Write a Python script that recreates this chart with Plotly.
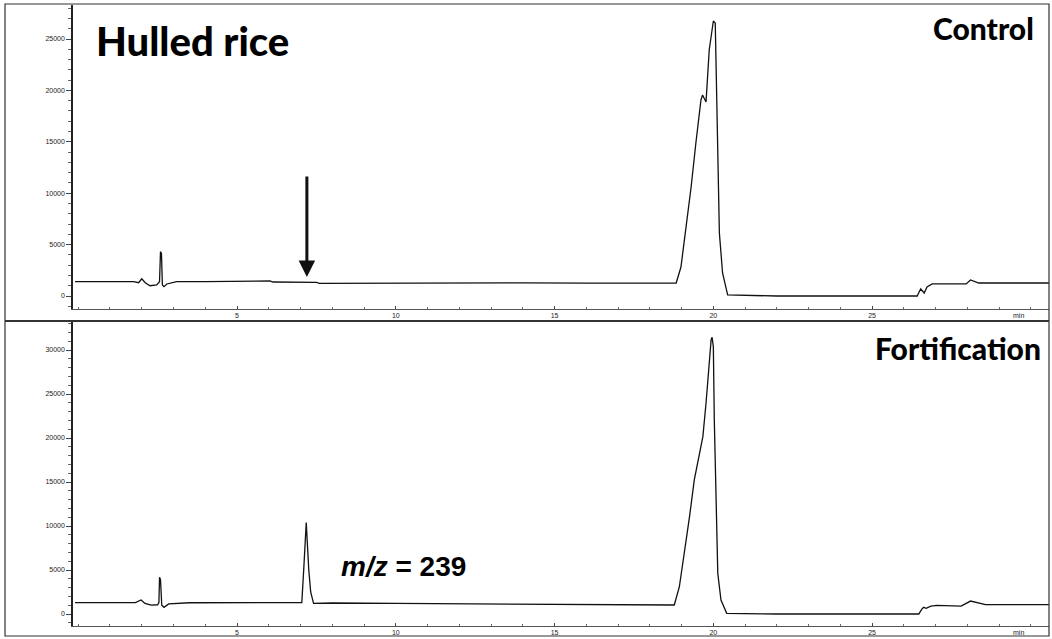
import plotly.graph_objects as go

# ---------------- data ----------------
t_ctrl = [-0.1, 0.5, 1.0, 1.5, 1.75, 1.9, 2.0, 2.11, 2.26, 2.47, 2.56, 2.59, 2.62, 2.65, 2.7,
          2.79, 3.1, 4.0, 5.0, 6.04, 6.13, 7.5, 7.6, 10, 12, 14, 16, 18, 18.83, 18.98, 19.14,
          19.3, 19.45, 19.61, 19.66, 19.77, 19.87, 20.0, 20.06, 20.13, 20.19, 20.29, 20.45,
          22, 24, 26.42, 26.48, 26.53, 26.64, 26.73, 26.89, 27.96, 28.1, 28.36, 30.6]
i_ctrl = [1390, 1400, 1380, 1390, 1390, 1290, 1680, 1290, 1000, 1070, 1390, 4310, 4150, 1070, 905,
          1170, 1390, 1400, 1420, 1460, 1360, 1330, 1230, 1260, 1260, 1270, 1260, 1265, 1265, 2820, 6710,
          10600, 14880, 19070, 19550, 18870, 23930, 26750, 26560, 16440, 6130, 2240, 100,
          0, 0, 0, 390, 680, 290, 875, 1170, 1170, 1560, 1265, 1265]

t_fort = [-0.1, 1.0, 1.8, 1.98, 2.1, 2.3, 2.5, 2.54, 2.56, 2.59, 2.63, 2.7, 2.85, 3.5, 5, 6.5,
          7.04, 7.1, 7.18, 7.26, 7.32, 7.41, 8, 10, 12, 14, 16, 18, 18.77, 18.93, 19.09, 19.25,
          19.4, 19.56, 19.67, 19.77, 19.87, 19.93, 19.96, 20.0, 20.03, 20.09, 20.14, 20.24, 20.42,
          22, 24, 26.47, 26.56, 26.62, 26.7, 26.85, 27.04, 27.8, 28.1, 28.57, 30.6]
i_fort = [1290, 1300, 1300, 1590, 1200, 1000, 1050, 1290, 4170, 3900, 1000, 760, 1150, 1280, 1290, 1290,
          1300, 5000, 10380, 5000, 2500, 1210, 1250, 1200, 1150, 1100, 1080, 1050, 1020, 3100, 6930, 11060,
          15230, 18300, 20150, 23980, 28520, 31140, 31440, 30380, 22040, 10680, 4620, 1590, 80,
          0, 0, 0, 530, 760, 640, 900, 980, 900, 1470, 1060, 1060]

x_ticks = [5, 10, 15, 20, 25]
y_ticks_ctrl = [0, 5000, 10000, 15000, 20000, 25000]
y_ticks_fort = [0, 5000, 10000, 15000, 20000, 25000, 30000]

arrow_t = 7.2
arrow_top, arrow_tip = 11770, 1850

# ---------------- figure ----------------
W, H = 1052, 639
fig = go.Figure()
line = dict(color="#111111", width=1.3)
fig.add_trace(go.Scatter(x=t_ctrl, y=i_ctrl, mode="lines", line=line, xaxis="x", yaxis="y",
                         showlegend=False, hoverinfo="skip"))
fig.add_trace(go.Scatter(x=t_fort, y=i_fort, mode="lines", line=line, xaxis="x2", yaxis="y2",
                         showlegend=False, hoverinfo="skip"))

xdom = [73 / W, 1049 / W]
top_dom = [1 - 309 / H, 1 - 5 / H]
bot_dom = [1 - 626 / H, 1 - 322 / H]
xrange = [-0.165, 30.57]
tickfont = dict(family="Liberation Sans", size=7, color="#222222")

xcommon = dict(range=xrange, domain=xdom, tickvals=x_ticks, showgrid=False, zeroline=False,
               showline=True, linecolor="#555555", linewidth=1, ticks="inside", ticklen=3,
               tickcolor="#444444", tickfont=tickfont,
               minor=dict(dtick=1, ticks="inside", ticklen=2, tickcolor="#666666"))
ycommon = dict(showgrid=False, zeroline=False, showline=True, linecolor="#222222", linewidth=1.5,
               ticks="outside", ticklen=5, tickcolor="#444444", tickfont=tickfont, tickformat="d",
               minor=dict(dtick=1000, ticks="outside", ticklen=3, tickcolor="#666666"))

fig.update_layout(
    width=W, height=H, margin=dict(l=0, r=0, t=0, b=0),
    paper_bgcolor="white", plot_bgcolor="white",
    xaxis=dict(anchor="y", **xcommon),
    xaxis2=dict(anchor="y2", **xcommon),
    yaxis=dict(anchor="x", domain=top_dom, range=[-1265, 28307], tickvals=y_ticks_ctrl, **ycommon),
    yaxis2=dict(anchor="x2", domain=bot_dom, range=[-1364, 33182], tickvals=y_ticks_fort, **ycommon),
)

# frame and divider
fig.add_shape(type="rect", xref="paper", yref="paper", x0=5 / W, x1=1049 / W, y0=1 - 636 / H, y1=1 - 4 / H,
              line=dict(color="#333333", width=1.2))
fig.add_shape(type="line", xref="paper", yref="paper", x0=5 / W, x1=1049 / W, y0=1 - 321 / H, y1=1 - 321 / H,
              line=dict(color="#333333", width=2))

fig.add_annotation(xref="paper", yref="paper", x=94 / W, y=1 - 41 / H, text="Hulled rice",
                   showarrow=False, xanchor="left", yanchor="middle",
                   font=dict(family="Lato", size=40, color="black", weight=900))
fig.add_annotation(xref="paper", yref="paper", x=1036 / W, y=1 - 28 / H, text="Control",
                   showarrow=False, xanchor="right", yanchor="middle",
                   font=dict(family="Lato", size=30, color="black", weight=900))
fig.add_annotation(xref="paper", yref="paper", x=1043 / W, y=1 - 348 / H, text="Fortification",
                   showarrow=False, xanchor="right", yanchor="middle",
                   font=dict(family="Lato", size=30, color="black", weight=900))
fig.add_annotation(xref="paper", yref="paper", x=339 / W, y=1 - 566 / H, text="<i>m/z</i> = 239",
                   showarrow=False, xanchor="left", yanchor="middle",
                   font=dict(family="Liberation Sans", size=28, color="black", weight="bold"))

# "min" labels
for xa, ya, yv in [("x", "y", -1265), ("x2", "y2", -1364)]:
    fig.add_annotation(xref=xa, yref=ya, x=29.6, y=yv, text="min", showarrow=False,
                       yanchor="top", font=tickfont, yshift=-1)

# arrow
fig.add_annotation(xref="x", yref="y", x=arrow_t, y=arrow_tip, ax=arrow_t, ay=arrow_top,
                   axref="x", ayref="y", showarrow=True, arrowhead=2, arrowsize=1.1,
                   arrowwidth=3, arrowcolor="#111111", text="")

fig.write_html("out.html")
